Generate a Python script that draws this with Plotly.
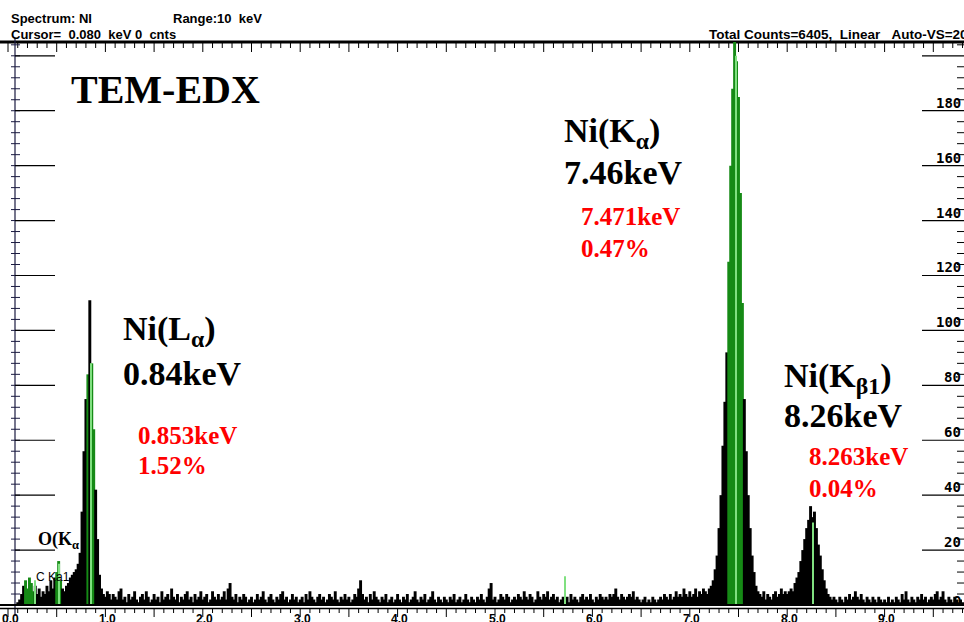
import plotly.graph_objects as go

# ---------------- data ----------------
E_START = 0.0          # keV, first channel
BIN_KEV = 0.02         # keV per channel (display bins)

counts = [
    0,0,0,0,0,1,2,4,7,9,6,10,8,5,7,4,6,3,5,4,7,5,9,6,10,            # 0.00-0.48
    12,16,9,6,5,7,8,10,11,12,13,15,19,34,56,75,84,111,88,64,42,24,11,6,4,  # 0.50-0.98
    3,5,4,2,4,3,2,5,6,2,3,1,4,2,3,5,2,1,3,4,2,5,3,1,2,             # 1.00
    4,2,3,1,5,2,3,4,2,6,3,2,4,1,3,2,4,5,2,3,1,4,2,3,5,             # 1.50
    2,3,4,1,2,5,3,2,4,2,3,5,2,6,8,3,2,4,1,3,2,4,3,1,2,             # 2.00
    3,1,2,4,2,3,5,2,1,3,4,2,1,3,2,4,5,2,3,1,2,4,2,3,1,             # 2.50
    2,3,1,4,2,5,3,2,1,3,4,2,3,1,2,4,3,2,5,2,1,3,2,4,2,             # 3.00
    3,1,2,4,3,6,9,4,2,3,1,4,2,5,3,2,1,3,2,4,1,2,3,1,2,             # 3.50
    4,2,1,3,2,4,1,2,3,5,2,1,3,2,4,1,2,3,5,2,1,3,2,1,3,             # 4.00
    2,1,3,2,4,1,2,3,1,2,4,2,1,3,2,1,3,2,4,2,1,3,6,8,2,             # 4.50
    3,1,2,4,3,2,4,3,1,2,3,2,4,3,2,5,3,2,4,3,1,2,5,3,2,             # 5.00
    4,3,5,2,3,4,2,3,1,2,3,2,3,1,4,2,3,2,1,3,4,2,3,2,4,             # 5.50
    2,1,3,2,4,3,2,3,2,4,3,4,6,3,2,4,3,2,3,4,3,5,2,3,2,             # 6.00
    1,2,3,1,2,1,3,2,1,2,3,2,4,3,2,4,2,3,5,3,4,3,6,4,3,             # 6.50
    5,3,4,6,3,5,4,6,5,4,6,7,9,13,18,28,40,58,74,92,125,160,188,205,198,  # 7.00
    185,150,110,75,56,40,28,18,12,7,5,4,3,5,2,4,3,2,4,5,3,4,6,4,5,  # 7.50
    4,5,6,5,8,10,12,16,20,24,28,31,36,32,34,28,22,18,13,9,6,4,3,2,3,  # 8.00
    2,1,3,2,1,3,2,4,2,3,5,3,2,4,2,1,3,2,1,3,2,1,3,2,1,             # 8.50
    2,1,3,1,2,1,3,2,1,4,2,5,2,1,3,2,1,3,2,4,2,3,1,2,3,             # 9.00
    2,4,5,2,3,5,2,1,3,2,1,3,2,1,2,1,                               # 9.50-9.80
]
energies = [round(E_START + BIN_KEV * i, 3) for i in range(len(counts))]

roi_ranges = [(0.18, 0.26), (0.50, 0.54), (0.82, 0.82), (0.86, 0.88), (7.40, 7.54)]

marker_energies = [0.277, 0.525, 0.851, 5.72, 7.471, 8.263]
marker_heights = [9, 15, 88, 10.5, 200, 30]

y_grid_values = [20, 40, 60, 80, 100, 120, 140, 160, 180, 200]
y_label_values = [0, 20, 40, 60, 80, 100, 120, 140, 160, 180]
x_label_values = [0, 1, 2, 3, 4, 5, 6, 7, 8, 9]
x_label_texts = ["0.0", "1.0", "2.0", "3.0", "4.0", "5.0", "6.0", "7.0", "8.0", "9.0"]

# ---------------- geometry ----------------
W, H = 964, 622
X0_PX, PX_PER_KEV = 8.0, 97.4
Y0_PX, PX_PER_CNT = 605.0, 2.746

def xd(px):
    return (px - X0_PX) / PX_PER_KEV

def yd(py):
    return (Y0_PX - py) / PX_PER_CNT

GREEN = "#168a16"
LIGHT_GREEN = "#80e080"

bar_colors = []
for e in energies:
    inroi = any(lo - 1e-9 <= e <= hi + 1e-9 for lo, hi in roi_ranges)
    bar_colors.append(GREEN if inroi else "black")

fig = go.Figure()
fig.add_trace(go.Bar(x=energies, y=counts, width=BIN_KEV * 1.5,
                     marker=dict(color=bar_colors, line=dict(width=0)),
                     hoverinfo="skip"))
fig.add_trace(go.Bar(x=marker_energies, y=marker_heights, width=0.011,
                     marker=dict(color=LIGHT_GREEN, line=dict(width=0)),
                     hoverinfo="skip"))

shapes = []
def line(x0, y0, x1, y1, w=1, color="black", layer="below"):
    shapes.append(dict(type="line", x0=x0, y0=y0, x1=x1, y1=y1, xref="x", yref="y",
                       line=dict(color=color, width=w), layer=layer))

# top thick axis + ticks
line(xd(0), yd(42), xd(W), yd(42), w=3)
for k in range(0, 100):
    e = k * 0.1
    ln = 9 if k % 5 == 0 else 5
    line(e, yd(43), e, yd(43 + ln), w=1)
# left axis
line(xd(15), yd(38), xd(15), yd(616), w=1.2, color="#1a1a40")
for c in range(0, 206, 4):
    line(xd(11), c, xd(20), c, w=1, color="#1a1a40")
for c in y_grid_values:
    line(xd(15), c, xd(55), c, w=1.2)
    line(xd(922), c, xd(W), c, w=1.2)
for c in range(0, 206, 4):
    if c % 20:
        line(xd(957), c, xd(W), c, w=1)
# bottom double line + ticks
line(xd(0), yd(605), xd(W), yd(605), w=2, layer="above")
line(xd(0), yd(608.5), xd(W), yd(608.5), w=1.5)
for k in range(0, 100):
    e = k * 0.1
    ln = 8 if k % 5 == 0 else 4
    line(e, yd(609), e, yd(609 + ln), w=1)

ann = []
def text(px, py, s, size, color="black", family="Liberation Serif, Times New Roman, serif",
         xanchor="left"):
    ann.append(dict(x=px / W, y=1 - py / H, xref="paper", yref="paper", text=s,
                    showarrow=False, xanchor=xanchor, yanchor="middle",
                    font=dict(size=size, color=color, family=family),
                    align="left"))

SANS = "Liberation Sans, Arial, sans-serif"
MONO = "DejaVu Sans Mono, monospace"
NB = "\u00a0"
text(9, 18, "<b>Spectrum: NI</b>", 13, family=SANS)
text(171, 18, "<b>Range:10" + NB * 2 + "keV</b>", 13, family=SANS)
text(9, 34, "<b>Cursor=" + NB * 2 + "0.080" + NB * 2 + "keV 0" + NB * 2 + "cnts</b>", 13, family=SANS)
text(707, 34, "<b>Total Counts=6405," + NB * 2 + "Linear" + NB * 3 + "Auto-VS=205</b>", 13.5, family=SANS)

for c in y_label_values:
    py = Y0_PX - c * PX_PER_CNT - 8 if c else 601
    text(963, py, "<b>%d</b>" % c, 14, family=MONO, xanchor="right")
for v, s in zip(x_label_values, x_label_texts):
    ann.append(dict(x=v + xd(2) - xd(0), y=yd(619), xref="x", yref="y", text="<b>%s</b>" % s,
                    showarrow=False, xanchor="center", yanchor="middle",
                    font=dict(size=12, color="black", family=SANS)))

text(69, 89, "<b>TEM-EDX</b>", 40)
text(562, 133, "<b>Ni(K<sub>α</sub>)</b>", 34)
text(562, 172, "<b>7.46keV</b>", 34)
text(579, 217, "<b>7.471keV</b>", 25, color="red")
text(579, 248, "<b>0.47%</b>", 25, color="red")
text(121, 331, "<b>Ni(L<sub>α</sub>)</b>", 34)
text(121, 373, "<b>0.84keV</b>", 34)
text(136, 435, "<b>0.853keV</b>", 25, color="red")
text(136, 466, "<b>1.52%</b>", 25, color="red")
text(782, 378, "<b>Ni(K<sub>β1</sub>)</b>", 34)
text(782, 415, "<b>8.26keV</b>", 34)
text(807, 456, "<b>8.263keV</b>", 25, color="red")
text(807, 488, "<b>0.04%</b>", 25, color="red")
text(36, 540, "<b>O(K<sub>α</sub></b>", 18)
text(34, 577, "C Ka1", 12, family=SANS)

fig.update_layout(
    width=W, height=H, margin=dict(l=0, r=0, t=0, b=0),
    paper_bgcolor="white", plot_bgcolor="white",
    showlegend=False, barmode="overlay",
    xaxis=dict(range=[xd(0), xd(W)], visible=False, fixedrange=True),
    yaxis=dict(range=[yd(H), yd(0)], visible=False, fixedrange=True),
    shapes=shapes, annotations=ann,
)
fig.write_html("out.html")
